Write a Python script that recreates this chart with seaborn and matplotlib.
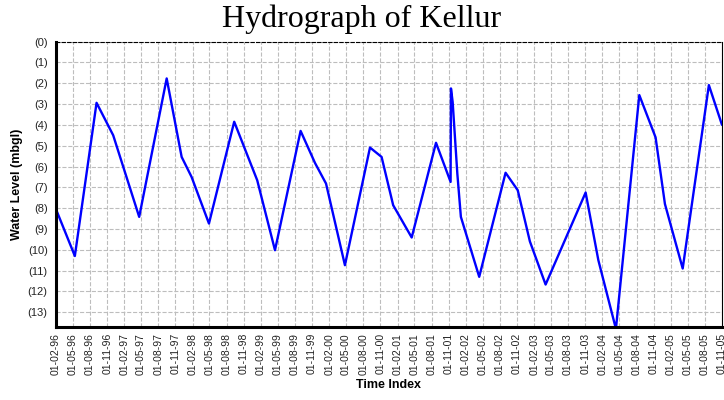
# Hydrograph of Kellur - water level below ground, quarterly readings 1996-2005

import matplotlib
matplotlib.use("Agg")
import matplotlib.pyplot as plt
import matplotlib.dates as mdates
from matplotlib.ticker import MultipleLocator, FuncFormatter
import pandas as pd
import seaborn as sns

obs_dates = ["1996-02-01", "1996-05-12", "1996-09-05", "1996-12-03", "1997-04-21",
             "1997-09-15", "1997-12-04", "1998-01-26", "1998-04-29", "1998-09-11",
             "1999-01-12", "1999-04-17", "1999-09-01", "1999-11-17", "2000-01-15",
             "2000-04-25", "2000-09-06", "2000-11-07", "2001-01-08", "2001-04-17",
             "2001-08-25", "2001-11-11", "2001-11-13", "2001-11-22", "2001-12-17",
             "2002-01-05", "2002-04-13", "2002-09-01", "2002-11-05", "2003-01-09",
             "2003-04-03", "2003-11-03", "2004-01-10", "2004-04-13", "2004-08-16",
             "2004-11-11", "2004-12-31", "2005-04-05", "2005-08-23", "2005-11-01"]
water_level = [8.05, 10.3, 2.94, 4.5, 8.42,
               1.77, 5.54, 6.5, 8.74, 3.85,
               6.66, 10.02, 4.29, 5.83, 6.82,
               10.74, 5.09, 5.54, 7.86, 9.41,
               4.86, 6.74, 2.25, 2.9, 6.34,
               8.42, 11.3, 6.3, 7.14, 9.6,
               11.67, 7.25, 10.5, 13.8, 2.57,
               4.6, 7.8, 10.9, 2.09, 4.0]

# Tick dates every three months
tick_dates = pd.date_range("1996-02-01", "2005-11-01", freq="3MS")
y_ticks = list(range(0, 14))

df = pd.DataFrame({"date": pd.to_datetime(obs_dates), "level": water_level})

sns.set_style("white")
plt.rcParams["font.family"] = ["Liberation Sans", "DejaVu Sans"]
plt.rcParams["text.color"] = "black"
plt.rcParams["axes.labelcolor"] = "black"

fig = plt.figure(figsize=(7.24, 4.0), dpi=100)
ax = fig.add_axes([0.0773, 0.183, 0.9199, 0.713])

sns.lineplot(data=df, x="date", y="level", color="#0000ff", linewidth=1.7, ax=ax)

# axes range, y inverted (depth below ground)
ax.set_xlim(tick_dates[0], tick_dates[-1])
ax.set_ylim(13.7, 0)

ax.set_xticks(tick_dates)
ax.xaxis.set_major_formatter(mdates.DateFormatter("%d-%m-%y"))
ax.set_yticks(y_ticks)
ax.yaxis.set_major_formatter(FuncFormatter(lambda v, p: "(%d)" % v))
ax.yaxis.set_minor_locator(MultipleLocator(0.25))

ax.tick_params(axis="x", rotation=90, labelsize=7.5, colors="#222222", length=3, width=1, pad=1.5)
ax.tick_params(axis="y", which="major", labelsize=8, colors="#222222", length=4, width=1, pad=2)
ax.tick_params(axis="y", which="minor", length=2, width=1, color="#e8d800", direction="inout")

ax.grid(True, which="major", linestyle="--", color="#bdbdbd", linewidth=0.8)

# spines like the original plotting tool
ax.spines["left"].set_linewidth(2.2)
ax.spines["bottom"].set_linewidth(2.2)
ax.spines["left"].set_color("black")
ax.spines["bottom"].set_color("black")
ax.spines["top"].set_linestyle((0, (3, 2)))
ax.spines["top"].set_linewidth(0.8)
ax.spines["top"].set_color("black")
ax.spines["right"].set_linewidth(0.8)
ax.spines["right"].set_color("black")

ax.set_xlabel("Time Index", fontsize=9, fontweight="bold", labelpad=3)
ax.set_ylabel("Water Level (mbgl)", fontsize=9, fontweight="bold", labelpad=3)
fig.suptitle("Hydrograph of Kellur", fontsize=23, family="Liberation Serif", color="black", y=0.988)

plt.savefig("out.png", dpi=100)
